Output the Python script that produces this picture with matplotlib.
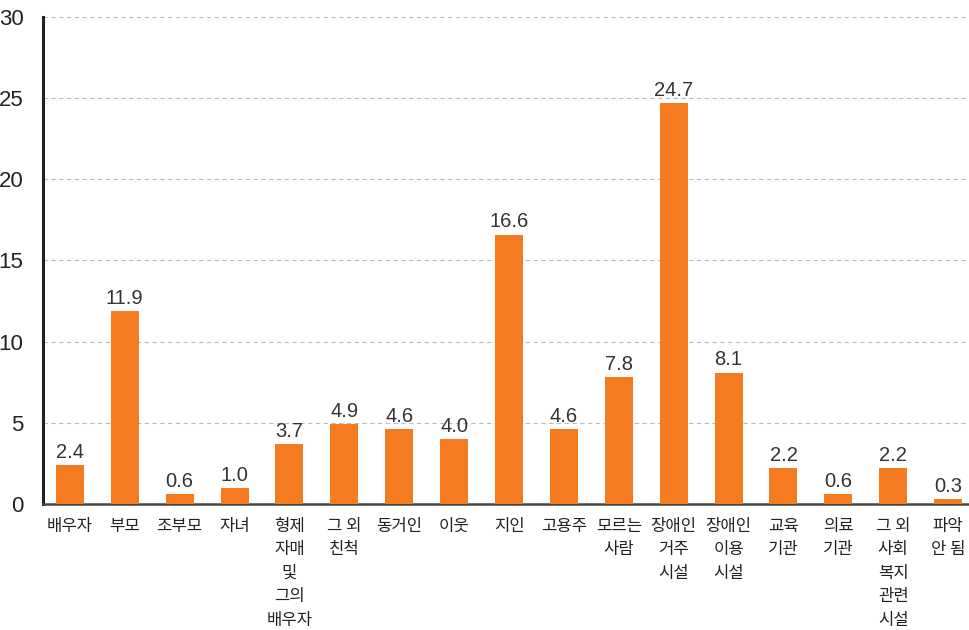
import matplotlib
matplotlib.use("Agg")
import matplotlib.pyplot as plt
import numpy as np

plt.rcParams['font.family'] = ['Noto Sans CJK KR', 'DejaVu Sans']

categories = ['배우자', '부모', '조부모', '자녀', '형제\n자매\n및\n그의\n배우자', '그 외\n친척',
              '동거인', '이웃', '지인', '고용주', '모르는\n사람', '장애인\n거주\n시설',
              '장애인\n이용\n시설', '교육\n기관', '의료\n기관', '그 외\n사회\n복지\n관련\n시설', '파악\n안 됨']
values = [2.4, 11.9, 0.6, 1.0, 3.7, 4.9, 4.6, 4.0, 16.6, 4.6, 7.8, 24.7, 8.1, 2.2, 0.6, 2.2, 0.3]
yticks = [0, 5, 10, 15, 20, 25, 30]

bar_color = '#F47B20'
num_font = ['Liberation Sans', 'DejaVu Sans']

fig = plt.figure(figsize=(9.69, 6.3), dpi=100)
ax = fig.add_axes([43 / 969, 126 / 630, 1 - 43 / 969, 487 / 630])

x = np.arange(len(categories))
ax.bar(x, values, width=0.51, color=bar_color, zorder=3)

for xi, v in zip(x, values):
    ax.text(xi, v + 0.2, f'{v:.1f}', ha='center', va='bottom', fontsize=14.5,
            color='#333333', family=num_font, zorder=4)

ax.set_ylim(0, 30)
ax.set_xlim(-0.49, 16.38)
ax.set_yticks(yticks)
ax.set_yticklabels([str(t) for t in yticks], fontsize=16, color='#222222', family=num_font)
ax.yaxis.grid(True, linestyle=(0, (4, 3)), color='#bbbbbb', linewidth=0.8, zorder=0)
ax.tick_params(axis='y', length=0, pad=14)

ax.set_xticks(x)
ax.set_xticklabels(categories, fontsize=12, color='#222222', linespacing=1.5, va='top')
ax.tick_params(axis='x', length=0, pad=10)

for side in ['top', 'right']:
    ax.spines[side].set_visible(False)
ax.spines['left'].set_linewidth(2.2)
ax.spines['left'].set_color('#222222')
ax.spines['bottom'].set_linewidth(1.8)
ax.spines['bottom'].set_color('#444444')

fig.savefig('out.png', dpi=100)
